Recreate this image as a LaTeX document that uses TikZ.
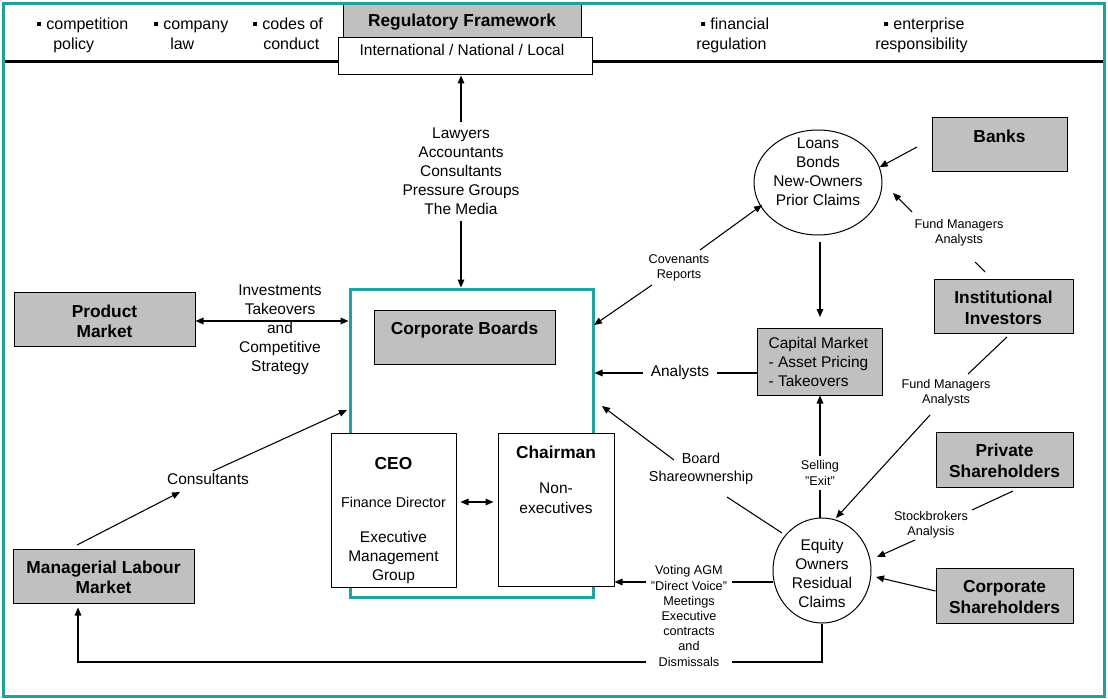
\documentclass[tikz,border=0pt]{standalone}
\usepackage{fontspec}
\setmainfont{Liberation Sans}
\usetikzlibrary{arrows.meta,shapes.geometric,calc}
\definecolor{tealc}{RGB}{32,160,158}
\definecolor{boxgray}{RGB}{192,192,192}
\newcommand{\myfs}[2]{\fontsize{#1}{#2}\selectfont}
\begin{document}
\begin{tikzpicture}[x=0.75pt,y=-0.75pt,
  sz/.style 2 args={minimum width=#1*0.75pt, minimum height=#2*0.75pt},
  box/.style={draw=black, line width=0.75pt, inner sep=0pt},
  gbox/.style={box, fill=boxgray},
  wbox/.style={box, fill=white},
  bt/.style={font=\myfs{13pt}{15pt}\bfseries, align=center, inner sep=0pt},
  rt/.style={font=\myfs{11.6pt}{14.3pt}, align=center, inner sep=1pt},
  st/.style={font=\myfs{9.5pt}{11.4pt}, align=center, inner sep=1pt},
  tt/.style={font=\myfs{12pt}{15pt}, align=left, inner sep=0pt, anchor=north west},
  ln/.style={line width=0.8pt},
  arr/.style={line width=0.8pt, -{Triangle[length=6pt,width=5pt]}},
  darr/.style={line width=0.8pt, {Triangle[length=6pt,width=5pt]}-{Triangle[length=6pt,width=5pt]}},
]
\useasboundingbox (0,0) rectangle (1108,699);
\fill[white] (0,0) rectangle (1108,699);

% top bar
\draw[line width=2.25pt] (4,62) -- (1104,62);
\node[gbox, sz={238}{34}] (reg) at (462,21) {};
\node[bt] (regT) at (462,22) {Regulatory Framework};
\node[wbox, sz={254}{37}] (intl) at (465,56.5) {};
\node[rt] (intlT) at (462,50) {International / National / Local};

\node[tt] (t1) at (36,15) {\strut ▪ competition\\\hspace*{12.75pt}policy};
\node[tt] (t2) at (153,15) {\strut ▪ company\\\hspace*{12.75pt}law};
\node[tt] (t3) at (252,15) {\strut ▪ codes of\\\hspace*{8.25pt}conduct};
\node[tt] (t4) at (696,15) {\strut\hspace*{3pt}▪ financial\\regulation};
\node[tt] (t5) at (875,15) {\strut\hspace*{6pt}▪ enterprise\\responsibility};

% corporate boards
\node[draw=tealc, line width=2.25pt, sz={243}{308}] (cb) at (471.5,443) {};
\node[gbox, sz={181}{54}] (cbg) at (464.5,337) {};
\node[bt] (cbT) at (464.5,330) {Corporate Boards};
\node[wbox, sz={125}{154}] (ceo) at (393.5,510) {};
\node[wbox, sz={116}{153}] (chair) at (556,509.5) {};
\node[bt] (ceoT) at (393.5,464) {CEO};
\node[font=\myfs{10.7pt}{13pt}, inner sep=0pt] (finT) at (393.5,502) {Finance Director};
\node[rt] (exT) at (393.5,557.5) {Executive\\Management\\Group};
\node[bt] (chT) at (556,452) {Chairman};
\node[rt, font=\myfs{11.6pt}{15pt}] (neT) at (556,498) {Non-\\executives};
\draw[darr, shorten <=3pt, shorten >=3pt] (ceo.east |- finT) -- (chair.west |- finT);

% regulatory connectors
\node[rt, inner ysep=4pt] (lawT) at (461,171.5) {Lawyers\\Accountants\\Consultants\\Pressure Groups\\The Media};
\draw[arr] (lawT.north) -- (lawT.north |- intl.south);
\draw[arr] (lawT.south) -- (lawT.south |- cb.north);

% product market
\node[gbox, sz={181}{54}] (pm) at (104.5,319) {};
\node[bt] (pmT) at (104.5,321) {Product\\Market};
\node[rt] (invT) at (280,330) {Investments\\Takeovers\\and\\Competitive\\Strategy};
\coordinate (pmy) at (0,321);
\draw[darr] (pm.east |- pmy) -- (cb.west |- pmy);

% managerial labour market
\node[gbox, sz={181}{54}] (mlm) at (103.5,576) {};
\node[bt] (mlmT) at (103.5,577) {Managerial Labour\\Market};
\node[rt] (consT) at (208,479) {Consultants};
\coordinate (c1) at (77,545);
\coordinate (c2) at (180,492);
\coordinate (c3) at (213,471);
\coordinate (c4) at (347,410);
\draw[arr] (c1) -- (c2);
\draw[arr] (c3) -- (c4);

% right side nodes
\node[draw, ellipse, line width=0.75pt, sz={128}{105}, inner sep=0pt] (loans) at (818,182.5) {};
\node[rt] (loansT) at (818,171.5) {Loans\\Bonds\\New-Owners\\Prior Claims};
\node[gbox, sz={135}{54}] (banks) at (999.5,145) {};
\node[bt] (banksT) at (999.5,136) {Banks};
\node[gbox, sz={139}{54}] (inst) at (1003.5,306) {};
\node[bt, font=\myfs{13pt}{15.75pt}\bfseries] (instT) at (1003.5,307.5) {Institutional\\Investors};
\node[gbox, sz={125}{67}] (capm) at (819.5,361.5) {};
\node[rt, align=left, anchor=west] (capmT) at (767,362) {Capital Market\\- Asset Pricing\\- Takeovers};
\node[gbox, sz={137}{55}] (priv) at (1004.5,459.5) {};
\node[bt, font=\myfs{13pt}{15.75pt}\bfseries] (privT) at (1004.5,460.5) {Private\\Shareholders};
\node[gbox, sz={137}{55}] (corp) at (1004.5,595.5) {};
\node[bt, font=\myfs{13pt}{15.75pt}\bfseries] (corpT) at (1004.5,597) {Corporate\\Shareholders};
\node[draw, ellipse, line width=0.75pt, sz={98}{105}, inner sep=0pt] (eq) at (822,570.5) {};
\node[rt] (eqT) at (822,573.5) {Equity\\Owners\\Residual\\Claims};

% banks -> loans
\coordinate (bk1) at (917,147);
\draw[arr] (bk1) -- (loans.14);
% fund managers (upper)
\node[st] (fmT1) at (959,233) {Fund Managers\\Analysts};
\coordinate (fu1) at (912,212);
\coordinate (fu2) at (893,193);
\draw[arr] (fu1) -- (fu2);
\coordinate (fu3) at (985,272);
\coordinate (fu4) at (975,262);
\draw[ln] (fu3) -- (fu4);
% loans -> capital market
\coordinate (lc1) at (820,242);
\coordinate (lc2) at (820,317);
\draw[arr] (lc1) -- (lc2);
% analysts
\node[rt, inner xsep=6pt] (anT) at (680,373) {Analysts};
\draw[ln] (capm.west |- anT) -- (anT.east);
\draw[arr] (anT.west) -- (anT.west -| cb.east);
% covenants
\node[st] (covT) at (679,267.5) {Covenants\\Reports};
\coordinate (cv1) at (700,250);
\coordinate (cv2) at (762,205);
\coordinate (cv3) at (652,285);
\coordinate (cv4) at (594,325);
\draw[arr] (cv1) -- (cv2);
\draw[arr] (cv3) -- (cv4);
% selling exit
\node[st, inner ysep=3pt] (selT) at (820,473) {Selling\\"Exit"};
\draw[ln] (selT |- eq.north) -- (selT.south);
\draw[arr] (selT.north) -- (selT |- capm.south);
% fund managers (lower)
\node[st] (fmT2) at (946,392.5) {Fund Managers\\Analysts};
\coordinate (fl1) at (1007,337);
\coordinate (fl2) at (968,374);
\coordinate (fl3) at (930,415);
\coordinate (fl4) at (836,518);
\draw[ln] (fl1) -- (fl2);
\draw[arr] (fl3) -- (fl4);
% stockbrokers
\node[st] (sbT) at (931,524.5) {Stockbrokers\\Analysis};
\coordinate (sb1) at (1013,491);
\coordinate (sb2) at (972,510);
\coordinate (sb3) at (915,540);
\coordinate (sb4) at (877,557);
\draw[ln] (sb1) -- (sb2);
\draw[arr] (sb3) -- (sb4);
% corporate shareholders
\coordinate (cs0) at (0,591);
\coordinate (cs2) at (876,577);
\draw[arr] (corp.west |- cs0) -- (cs2);
% board shareownership
\node[font=\myfs{10.8pt}{13.5pt}, align=center, inner sep=1pt] (bsT) at (701,469) {Board\\Shareownership};
\coordinate (bs1) at (782,533);
\coordinate (bs2) at (727,497);
\coordinate (bs3) at (674,460);
\coordinate (bs4) at (602,406);
\draw[ln] (bs1) -- (bs2);
\draw[arr] (bs3) -- (bs4);
% voting and bottom return
\coordinate (vy) at (0,582);
\draw[arr] (eq.west |- vy) -- (chair.east |- vy);
\coordinate (bl) at (78,662);
\draw[arr, shorten >=3pt] (eq.south) |- (bl) -- (bl |- mlm.south);
\node[st, fill=white, inner xsep=4pt, inner ysep=1pt] (vtT) at (689,616) {Voting AGM\\"Direct Voice"\\Meetings\\Executive\\contracts\\and\\Dismissals};

% outer frame
\draw[tealc, line width=2.25pt] (3.5,3.5) rectangle (1104.5,696.5);
\end{tikzpicture}
\end{document}
